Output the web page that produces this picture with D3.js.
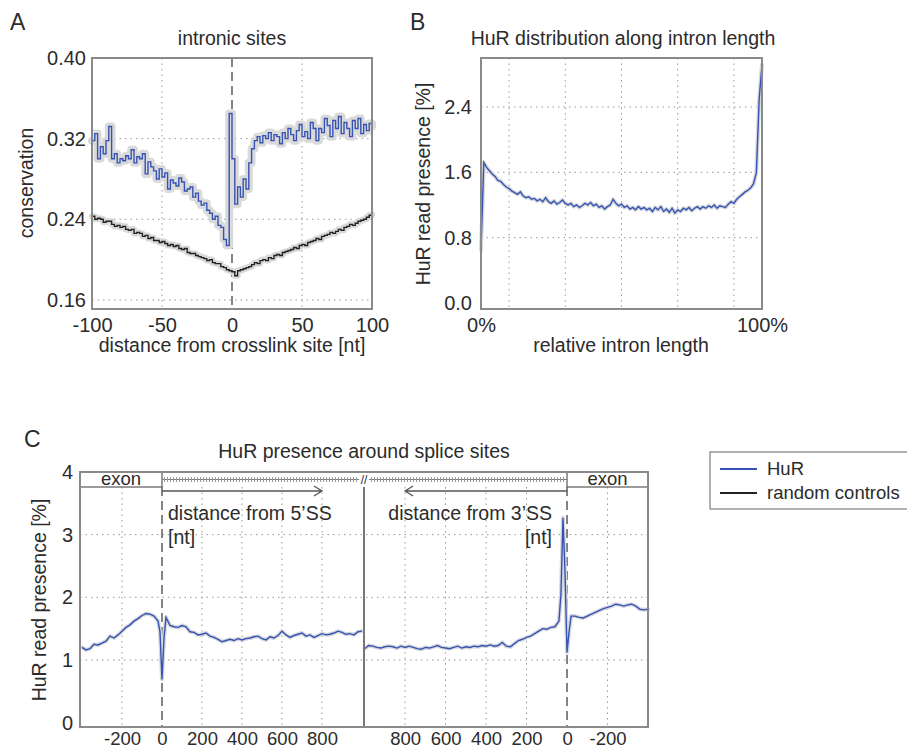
<!DOCTYPE html>
<meta charset="utf-8">
<style>
body { margin: 0; background: #fff; }
svg text { font-family: "Liberation Sans", Arial, sans-serif; fill: #2b2b2b; }
.frame { fill: none; stroke: #8a8a8a; stroke-width: 2; }
.grid line { stroke: #999; stroke-dasharray: 1.5,4; }
.zero { stroke: #444; stroke-dasharray: 9,5; stroke-width: 1.3; }
.axis text { font-size: 20px; fill: #2b2b2b; }
.axis.small text { font-size: 18.5px; }
.lab { font-size: 19.5px; }
.leg { font-size: 18.5px; }
.letter { font-size: 23px; }
</style>
<body>
<script src="https://cdnjs.cloudflare.com/ajax/libs/d3/7.8.5/d3.min.js"></script>
<script>

var blue = "#3653b3", dark = "#222";

// panel A: conservation around crosslink sites, every 2 nt from -100 to 100
var aPos = d3.range(-100, 101, 2);
var aHuR = [0.318,0.325,0.300,0.312,0.305,0.318,0.332,0.300,0.305,0.296,
  0.300,0.298,0.303,0.300,0.309,0.296,0.302,0.300,0.305,0.285,
  0.297,0.292,0.288,0.280,0.290,0.282,0.286,0.270,0.279,0.276,
  0.273,0.281,0.277,0.268,0.270,0.272,0.262,0.266,0.258,0.254,
  0.256,0.249,0.246,0.240,0.243,0.234,0.232,0.220,0.214,0.345,
  0.300,0.255,0.272,0.262,0.280,0.270,0.296,0.310,0.318,0.322,
  0.316,0.323,0.320,0.326,0.318,0.324,0.322,0.315,0.326,0.320,
  0.330,0.324,0.318,0.328,0.334,0.322,0.327,0.320,0.336,0.330,
  0.318,0.330,0.326,0.340,0.333,0.322,0.338,0.330,0.342,0.325,
  0.336,0.330,0.322,0.338,0.330,0.340,0.325,0.334,0.328,0.335,0.332];
var aCtrl = [0.243,0.240,0.241,0.240,0.237,0.238,0.238,0.235,0.233,0.234,
  0.232,0.233,0.230,0.229,0.230,0.226,0.227,0.226,0.223,0.224,
  0.221,0.222,0.219,0.219,0.217,0.218,0.216,0.214,0.215,0.213,
  0.214,0.211,0.210,0.211,0.207,0.206,0.206,0.204,0.203,0.202,
  0.201,0.199,0.200,0.197,0.196,0.196,0.193,0.192,0.190,0.189,
  0.188,0.184,0.189,0.190,0.191,0.192,0.193,0.195,0.197,0.196,
  0.199,0.200,0.199,0.202,0.201,0.204,0.205,0.204,0.207,0.208,
  0.209,0.210,0.212,0.211,0.214,0.215,0.214,0.217,0.218,0.219,
  0.221,0.220,0.223,0.224,0.225,0.227,0.226,0.228,0.230,0.229,
  0.232,0.233,0.235,0.234,0.236,0.238,0.239,0.240,0.242,0.244,0.245];
var aTicksY = [0.16, 0.24, 0.32, 0.40];
var aTicksX = [-100, -50, 0, 50, 100];

// panel B: HuR along relative intron length, every 1 %
var bPos = d3.range(0, 101, 1);
var bHuR = [0.65,1.72,1.66,1.62,1.58,1.55,1.50,1.49,1.45,1.42,
  1.40,1.37,1.35,1.33,1.36,1.31,1.29,1.30,1.27,1.28,
  1.25,1.27,1.24,1.29,1.24,1.22,1.25,1.21,1.23,1.26,
  1.22,1.20,1.22,1.18,1.20,1.17,1.19,1.22,1.20,1.23,
  1.19,1.21,1.17,1.19,1.15,1.18,1.20,1.27,1.22,1.19,
  1.21,1.17,1.19,1.15,1.17,1.14,1.18,1.15,1.17,1.14,
  1.16,1.12,1.17,1.14,1.18,1.12,1.15,1.11,1.16,1.10,
  1.14,1.12,1.16,1.14,1.17,1.13,1.16,1.18,1.15,1.18,
  1.16,1.19,1.17,1.20,1.16,1.19,1.18,1.17,1.21,1.24,
  1.22,1.27,1.30,1.33,1.36,1.38,1.41,1.46,1.60,2.50,2.92];
var bTicksY = [0.0, 0.8, 1.6, 2.4];
var bGrid = [10, 30, 50, 70, 90];
var bTickLabels = ["0%", "100%"];

// panel C: around 5' splice site (left) and 3' splice site (right)
var c5Pos = [-400,-380,-360,-340,-320,-300,-280,-260,-240,-220,-200,-180,-160,-140,-120,-100,-80,-60,-40,-20,-10,0,10,20,
  40,60,80,100,120,140,160,180,200,220,240,260,280,300,320,340,360,380,400,420,440,460,480,500,
  520,540,560,580,600,620,640,660,680,700,720,740,760,780,800,820,840,860,880,900,920,940,960,980,1000];
var c5HuR = [1.20,1.16,1.18,1.25,1.24,1.27,1.30,1.38,1.35,1.40,1.46,1.52,1.56,1.62,1.66,1.71,1.74,1.73,1.70,1.62,1.45,0.69,1.35,1.68,
  1.55,1.53,1.52,1.55,1.53,1.45,1.44,1.40,1.41,1.43,1.38,1.36,1.33,1.29,1.31,1.33,1.31,1.34,1.32,1.34,1.35,1.37,1.38,1.34,
  1.32,1.37,1.35,1.39,1.46,1.40,1.36,1.39,1.41,1.43,1.38,1.40,1.36,1.39,1.42,1.40,1.41,1.43,1.46,1.44,1.41,1.42,1.40,1.45,1.46];
var c3Pos = [1000,980,960,940,920,900,880,860,840,820,800,780,760,740,720,700,680,660,640,620,600,580,560,540,520,500,
  480,460,440,420,400,380,360,340,320,300,280,260,240,220,200,180,160,140,120,100,80,60,40,30,20,10,0,-10,-20,
  -40,-60,-80,-100,-120,-140,-160,-180,-200,-220,-240,-260,-280,-300,-320,-340,-360,-380,-400];
var c3HuR = [1.18,1.23,1.22,1.20,1.19,1.21,1.22,1.21,1.19,1.22,1.20,1.22,1.20,1.18,1.17,1.20,1.19,1.21,1.23,1.20,1.19,1.18,1.20,1.22,1.19,1.21,
  1.20,1.22,1.21,1.23,1.22,1.24,1.22,1.23,1.28,1.22,1.21,1.26,1.31,1.33,1.36,1.38,1.42,1.46,1.50,1.49,1.52,1.53,1.62,2.05,3.27,2.40,1.12,1.45,1.70,
  1.70,1.68,1.67,1.70,1.73,1.76,1.79,1.82,1.84,1.86,1.89,1.88,1.86,1.88,1.89,1.86,1.81,1.80,1.81];
var cTicksY = [0, 1, 2, 3, 4];
var c5Ticks = [-200, 0, 200, 400, 600, 800];
var c3Ticks = [800, 600, 400, 200, 0, -200];

var legendLabels = ["HuR", "random controls"];
var legendColors = [blue, dark];

var svg = d3.select("body").append("svg")
    .attr("width", 907)
    .attr("height", 751);

function fmt(d) { return String(d); }

function axisStyle(g) {
  g.select(".domain").remove();
  g.attr("font-family", null).attr("font-size", null);
  g.selectAll("text").attr("fill", "#2b2b2b");
}

function band(data, x, y, curve, col, w, bandCol) {
  var ln = d3.line().x(function(d){ return x(d[0]); }).y(function(d){ return y(d[1]); }).curve(curve);
  svg.append("path").datum(data).attr("d", ln)
    .attr("fill", "none").attr("stroke", bandCol || "#d6d8dc").attr("stroke-width", w)
    .attr("stroke-linejoin", "round").attr("stroke-linecap", "round");
  svg.append("path").datum(data).attr("d", ln)
    .attr("fill", "none").attr("stroke", col).attr("stroke-width", 1.4);
}

// ---------- A ----------
var xA = d3.scaleLinear().domain([-100, 100]).range([92, 372]);
var yA = d3.scaleLinear().domain([0.151, 0.40]).range([309, 58]);

var gA = svg.append("g").attr("class", "grid");
gA.selectAll(".h").data(aTicksY).enter().append("line")
  .attr("x1", 92).attr("x2", 372).attr("y1", yA).attr("y2", yA);
gA.selectAll(".v").data([-50, 50]).enter().append("line")
  .attr("x1", xA).attr("x2", xA).attr("y1", 58).attr("y2", 309);
svg.append("line").attr("class", "zero")
  .attr("x1", xA(0)).attr("x2", xA(0)).attr("y1", 58).attr("y2", 309);

band(aPos.map(function(p,i){ return [p, aCtrl[i]]; }), xA, yA, d3.curveStepAfter, dark, 6, "#d9d9d9");
band(aPos.map(function(p,i){ return [p, aHuR[i]]; }), xA, yA, d3.curveStepAfter, blue, 8, "#dadada");

svg.append("rect").attr("class", "frame").attr("x", 92).attr("y", 58).attr("width", 280).attr("height", 251);
svg.append("g").attr("class", "axis").attr("transform", "translate(92,0)")
  .call(d3.axisLeft(yA).tickValues(aTicksY).tickSize(0).tickPadding(6).tickFormat(d3.format(".2f")))
  .call(axisStyle);
svg.append("g").attr("class", "axis").attr("transform", "translate(0,309)")
  .call(d3.axisBottom(xA).tickValues(aTicksX).tickSize(0).tickPadding(9).tickFormat(fmt))
  .call(axisStyle);

svg.append("text").attr("class", "letter").attr("x", 10).attr("y", 30).text("A");
svg.append("text").attr("class", "lab").attr("x", 232).attr("y", 45).attr("text-anchor", "middle").text("intronic sites");
svg.append("text").attr("class", "lab").attr("x", 232).attr("y", 352).attr("text-anchor", "middle").text("distance from crosslink site [nt]");
svg.append("text").attr("class", "lab").attr("transform", "translate(33,183) rotate(-90)").attr("text-anchor", "middle").text("conservation");

// ---------- B ----------
var xB = d3.scaleLinear().domain([0, 100]).range([481, 762]);
var yB = d3.scaleLinear().domain([-0.074, 3.0]).range([309, 58]);

var gB = svg.append("g").attr("class", "grid");
gB.selectAll(".h").data(bTicksY.slice(1)).enter().append("line")
  .attr("x1", 481).attr("x2", 762).attr("y1", yB).attr("y2", yB);
gB.selectAll(".v").data(bGrid).enter().append("line")
  .attr("x1", xB).attr("x2", xB).attr("y1", 58).attr("y2", 309);

band(bPos.map(function(p,i){ return [p, bHuR[i]]; }), xB, yB, d3.curveLinear, blue, 4);

svg.append("rect").attr("class", "frame").attr("x", 481).attr("y", 58).attr("width", 281).attr("height", 251);
svg.append("g").attr("class", "axis").attr("transform", "translate(481,0)")
  .call(d3.axisLeft(yB).tickValues(bTicksY).tickSize(0).tickPadding(9).tickFormat(d3.format(".1f")))
  .call(axisStyle);
svg.append("g").attr("class", "axis").attr("transform", "translate(0,309)")
  .call(d3.axisBottom(xB).tickValues([0, 100]).tickSize(0).tickPadding(9)
    .tickFormat(function(d, i){ return bTickLabels[i]; }))
  .call(axisStyle);

svg.append("text").attr("class", "letter").attr("x", 410).attr("y", 30).text("B");
svg.append("text").attr("class", "lab").attr("x", 623).attr("y", 45).attr("text-anchor", "middle").text("HuR distribution along intron length");
svg.append("text").attr("class", "lab").attr("x", 621).attr("y", 352).attr("text-anchor", "middle").text("relative intron length");
svg.append("text").attr("class", "lab").attr("transform", "translate(430,184) rotate(-90)").attr("text-anchor", "middle").text("HuR read presence [%]");

// ---------- C ----------
var yC = d3.scaleLinear().domain([-0.07, 4.0]).range([727, 472]);
var xC5 = d3.scaleLinear().domain([-410, 1010]).range([80, 364]);
var xC3 = d3.scaleLinear().domain([1003, -400]).range([364, 648]);

var gC = svg.append("g").attr("class", "grid");
gC.selectAll(".h").data([1, 2, 3]).enter().append("line")
  .attr("x1", 80).attr("x2", 648).attr("y1", yC).attr("y2", yC);
gC.selectAll(".v5").data(c5Ticks.filter(function(d){ return d !== 0; })).enter().append("line")
  .attr("x1", xC5).attr("x2", xC5).attr("y1", 487).attr("y2", 727);
gC.selectAll(".v3").data(c3Ticks.filter(function(d){ return d !== 0; })).enter().append("line")
  .attr("x1", xC3).attr("x2", xC3).attr("y1", 487).attr("y2", 727);
svg.append("line").attr("class", "zero")
  .attr("x1", xC5(0)).attr("x2", xC5(0)).attr("y1", 487).attr("y2", 727);
svg.append("line").attr("class", "zero")
  .attr("x1", xC3(0)).attr("x2", xC3(0)).attr("y1", 487).attr("y2", 727);

band(c5Pos.map(function(p,i){ return [p, c5HuR[i]]; }), xC5, yC, d3.curveLinear, blue, 4);
band(c3Pos.map(function(p,i){ return [p, c3HuR[i]]; }), xC3, yC, d3.curveLinear, blue, 4);

// top gene-structure strip
svg.append("rect").attr("x", 80).attr("y", 472).attr("width", xC5(0) - 80).attr("height", 15)
  .attr("fill", "#fff").attr("stroke", "#666").attr("stroke-width", 1.3);
svg.append("rect").attr("x", xC3(0)).attr("y", 472).attr("width", 648 - xC3(0)).attr("height", 15)
  .attr("fill", "#fff").attr("stroke", "#666").attr("stroke-width", 1.3);
svg.append("text").attr("class", "leg").attr("x", (80 + xC5(0)) / 2).attr("y", 485).attr("text-anchor", "middle").text("exon");
svg.append("text").attr("class", "leg").attr("x", (648 + xC3(0)) / 2).attr("y", 485).attr("text-anchor", "middle").text("exon");
[[xC5(0), 359], [369, xC3(0)]].forEach(function(s) {
  svg.append("line").attr("x1", s[0]).attr("x2", s[1]).attr("y1", 479.5).attr("y2", 479.5)
    .attr("stroke", "#777").attr("stroke-width", 1);
  svg.append("line").attr("x1", s[0] + 2).attr("x2", s[1] - 1).attr("y1", 479.5).attr("y2", 479.5)
    .attr("stroke", "#999").attr("stroke-width", 5).attr("stroke-dasharray", "1,2");
});
svg.append("text").attr("x", 364).attr("y", 484).attr("text-anchor", "middle")
  .attr("font-size", "12px").attr("fill", "#555").text("//");

// distance arrows
var ay = 491;
svg.append("path").attr("d", "M" + xC5(0) + "," + ay + "H" + xC5(800) + "M" + (xC5(800) - 8) + "," + (ay - 5) + "L" + xC5(800) + "," + ay + "L" + (xC5(800) - 8) + "," + (ay + 5))
  .attr("fill", "none").attr("stroke", "#555").attr("stroke-width", 1.3);
svg.append("path").attr("d", "M" + xC3(0) + "," + ay + "H" + xC3(800) + "M" + (xC3(800) + 8) + "," + (ay - 5) + "L" + xC3(800) + "," + ay + "L" + (xC3(800) + 8) + "," + (ay + 5))
  .attr("fill", "none").attr("stroke", "#555").attr("stroke-width", 1.3);
svg.append("text").attr("class", "lab").attr("x", xC5(0) + 6).attr("y", 520).text("distance from 5\u2019SS");
svg.append("text").attr("class", "lab").attr("x", xC5(0) + 6).attr("y", 544).text("[nt]");
svg.append("text").attr("class", "lab").attr("x", xC3(0) - 15).attr("y", 520).attr("text-anchor", "end").text("distance from 3\u2019SS");
svg.append("text").attr("class", "lab").attr("x", xC3(0) - 15).attr("y", 544).attr("text-anchor", "end").text("[nt]");

svg.append("line").attr("x1", 364).attr("x2", 364).attr("y1", 487).attr("y2", 727)
  .attr("stroke", "#777").attr("stroke-width", 2);
svg.append("rect").attr("class", "frame").attr("x", 80).attr("y", 472).attr("width", 568).attr("height", 255);

svg.append("g").attr("class", "axis").attr("transform", "translate(80,0)")
  .call(d3.axisLeft(yC).tickValues(cTicksY).tickSize(0).tickPadding(7).tickFormat(fmt))
  .call(axisStyle);
svg.append("g").attr("class", "axis small").attr("transform", "translate(0,727)")
  .call(d3.axisBottom(xC5).tickValues(c5Ticks).tickSize(0).tickPadding(5).tickFormat(fmt))
  .call(axisStyle);
svg.append("g").attr("class", "axis small").attr("transform", "translate(0,727)")
  .call(d3.axisBottom(xC3).tickValues(c3Ticks).tickSize(0).tickPadding(5).tickFormat(fmt))
  .call(axisStyle);

svg.append("text").attr("class", "letter").attr("x", 24).attr("y", 447).text("C");
svg.append("text").attr("class", "lab").attr("x", 364).attr("y", 458).attr("text-anchor", "middle").text("HuR presence around splice sites");
svg.append("text").attr("class", "lab").attr("transform", "translate(46,600) rotate(-90)").attr("text-anchor", "middle").text("HuR read presence [%]");

// legend
var lg = svg.append("g").attr("transform", "translate(710,452)");
lg.append("rect").attr("width", 215).attr("height", 57).attr("fill", "#fff")
  .attr("stroke", "#888").attr("stroke-width", 1.3);
var li = lg.selectAll(".li").data(legendLabels).enter().append("g")
  .attr("transform", function(d, i){ return "translate(0," + (17 + i * 24) + ")"; });
li.append("line").attr("x1", 10).attr("x2", 47)
  .attr("stroke", function(d, i){ return legendColors[i]; }).attr("stroke-width", 2);
li.append("text").attr("class", "leg").attr("x", 57).attr("y", 6).text(function(d){ return d; });

</script>
</body>
